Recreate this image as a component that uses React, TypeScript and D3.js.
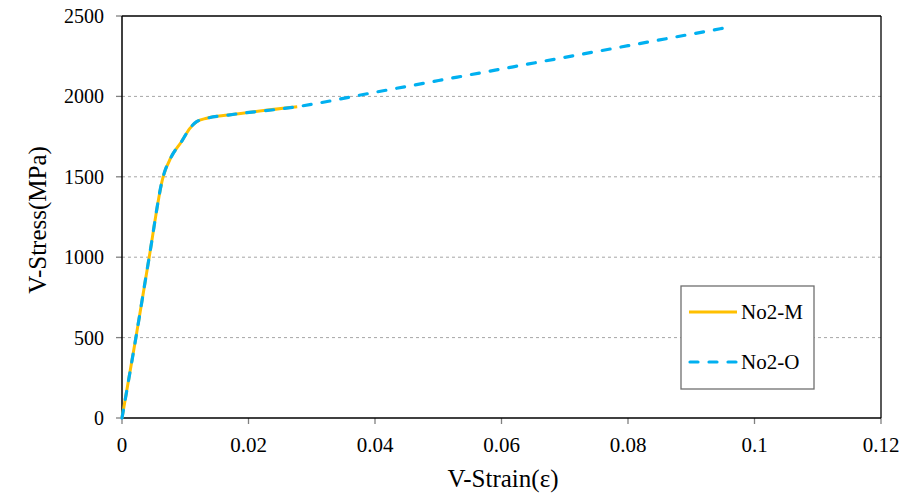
import React from "react";
import * as d3 from "d3";

const strainM = [0, 0.0022, 0.0043, 0.0065, 0.0078, 0.0094, 0.0107, 0.0118, 0.0134, 0.0168, 0.0277];
const stressM = [0, 500, 1000, 1500, 1625, 1718, 1800, 1843, 1864, 1884, 1936];
const strainO = [0, 0.0022, 0.0043, 0.0065, 0.0078, 0.0094, 0.0107, 0.0118, 0.0134, 0.0168, 0.0277, 0.0402, 0.0955];
const stressO = [0, 500, 1000, 1500, 1625, 1718, 1800, 1843, 1864, 1884, 1936, 2027, 2427];
const xTicks = [0, 0.02, 0.04, 0.06, 0.08, 0.1, 0.12];
const xTickLabels = ["0", "0.02", "0.04", "0.06", "0.08", "0.1", "0.12"];
const yTicks = [0, 500, 1000, 1500, 2000, 2500];
const seriesNames = ["No2-M", "No2-O"];

const W = 919, H = 501;
const L = 122, R = 881, T = 16, B = 418;
const FONT = "'Liberation Serif', 'Times New Roman', serif";
const YELLOW = "#FFC000";
const BLUE = "#00B0F0";

export default function App() {
  const x = d3.scaleLinear().domain([0, 0.12]).range([L, R]);
  const y = d3.scaleLinear().domain([0, 2500]).range([B, T]);
  const line = d3
    .line<[number, number]>()
    .x((d) => x(d[0]))
    .y((d) => y(d[1]))
    .curve(d3.curveMonotoneX);
  const dM = line(strainM.map((s, i) => [s, stressM[i]] as [number, number])) || "";
  const dO = line(strainO.map((s, i) => [s, stressO[i]] as [number, number])) || "";

  return (
    <svg
      width={W}
      height={H}
      style={{ position: "absolute", left: 0, top: 0, background: "#fff" }}
      fontFamily={FONT}
    >
      <rect x={0} y={0} width={W} height={H} fill="#fff" />
      {/* gridlines */}
      {yTicks.filter((v) => v > 0 && v < 2500).map((v) => (
        <line key={"g" + v} x1={L} x2={R} y1={y(v)} y2={y(v)} stroke="#a6a6a6" strokeWidth={1} strokeDasharray="3 3" />
      ))}
      {/* y ticks */}
      {yTicks.map((v) => (
        <g key={"yt" + v}>
          <line x1={L - 6} x2={L} y1={y(v)} y2={y(v)} stroke="#808080" strokeWidth={1.3} />
          <text x={104} y={y(v)} dy="0.35em" textAnchor="end" fontSize={20} fill="#000">{v}</text>
        </g>
      ))}
      {/* x ticks */}
      {xTicks.map((v, i) => (
        <g key={"xt" + v}>
          <line x1={x(v)} x2={x(v)} y1={B} y2={B + 6} stroke="#808080" strokeWidth={1.3} />
          <text x={x(v)} y={452} textAnchor="middle" fontSize={21} fill="#000">{xTickLabels[i]}</text>
        </g>
      ))}
      {/* plot border */}
      <line x1={L} x2={R} y1={T} y2={T} stroke="#000" strokeWidth={1.3} />
      <line x1={R} x2={R} y1={T} y2={B} stroke="#000" strokeWidth={1.3} />
      <line x1={L} x2={L} y1={T} y2={B} stroke="#000" strokeWidth={1.5} />
      <line x1={L} x2={R} y1={B} y2={B} stroke="#000" strokeWidth={1.5} />
      {/* series */}
      <path d={dM} fill="none" stroke={YELLOW} strokeWidth={3} />
      <path d={dO} fill="none" stroke={BLUE} strokeWidth={3.2} strokeDasharray="8 11" strokeLinecap="round" />
      {/* legend */}
      <rect x={681} y={286} width={133} height={103} fill="#fff" stroke="#6f6f6f" strokeWidth={1.3} />
      <line x1={689} x2={737} y1={312} y2={312} stroke={YELLOW} strokeWidth={3} />
      <text x={741} y={312} dy="0.35em" fontSize={21} fill="#000">{seriesNames[0]}</text>
      <line x1={690} x2={737} y1={362} y2={362} stroke={BLUE} strokeWidth={3.2} strokeDasharray="8 11" strokeLinecap="round" />
      <text x={741} y={362} dy="0.35em" fontSize={21} fill="#000">{seriesNames[1]}</text>
      {/* axis titles */}
      <text x={503} y={487} textAnchor="middle" fontSize={25} fill="#000">V-Strain(ε)</text>
      <text transform="translate(46,220) rotate(-90)" textAnchor="middle" fontSize={25} fill="#000">V-Stress(MPa)</text>
    </svg>
  );
}
